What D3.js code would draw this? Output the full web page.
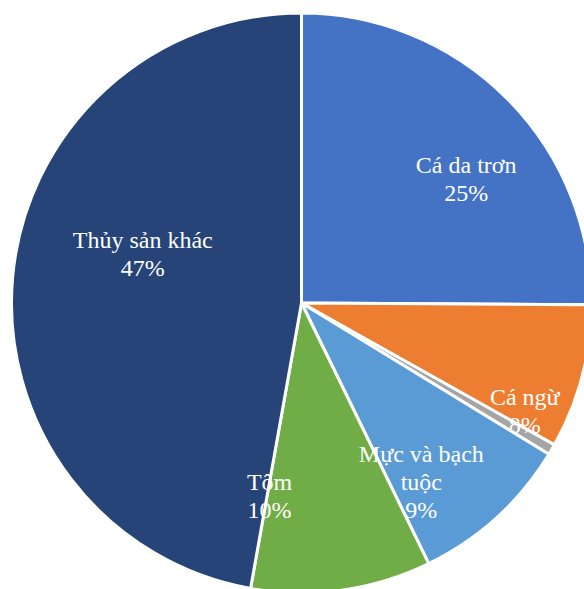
<!DOCTYPE html>
<html>
<head>
<meta charset="utf-8">
<script src="https://cdn.jsdelivr.net/npm/d3@7"></script>
<style>
  html, body { margin: 0; padding: 0; background: #ffffff; }
  svg { display: block; }
</style>
</head>
<body>
<svg id="chart" width="584" height="589"></svg>
<script>
// Seafood export structure, share by product group (%)
const categories = ["Cá da trơn", "Cá ngừ", "Khác", "Mực và bạch tuộc", "Tôm", "Thủy sản khác"];
const shares = [25, 8, 0.6, 9, 10, 47];
const valueLabels = ["25%", "8%", "", "9%", "10%", "47%"];
// label text lines (wrapped as in the chart)
const labelLines = [["Cá da trơn"], ["Cá ngừ"], [], ["Mực và bạch", "tuộc"], ["Tôm"], ["Thủy sản khác"]];

const colors = ["#4472C4", "#ED7D31", "#A5A5A5", "#5B9BD5", "#70AD47", "#264478"];

// label placement tweaks relative to the slice centroid
const labelNudge = [[31, 9], [41, 60], [0, 0], [-7, 40], [-58, 6], [29, -32]];

const width = 584, height = 589;
const cx = 301.5, cy = 303, radius = 290;

const svg = d3.select("#chart");
const g = svg.append("g").attr("transform", `translate(${cx},${cy})`);

const data = categories.map((c, i) => ({ name: c, value: shares[i], idx: i }));

const pie = d3.pie().sort(null).value(d => d.value).startAngle(0).endAngle(2 * Math.PI);
const arcs = pie(data);

const color = d3.scaleOrdinal().domain(categories).range(colors);

const arc = d3.arc().innerRadius(0).outerRadius(radius);
const labelArc = d3.arc().innerRadius(radius * 0.65).outerRadius(radius * 0.65);

g.selectAll("path.slice")
  .data(arcs)
  .join("path")
  .attr("class", "slice")
  .attr("d", arc)
  .attr("fill", d => color(d.data.name))
  .attr("stroke", "#ffffff")
  .attr("stroke-width", 3)
  .attr("stroke-linejoin", "round");

const lineHeight = 28;
const fontSize = 24;

const labels = g.selectAll("text.lbl")
  .data(arcs.filter(d => valueLabels[d.data.idx] !== ""))
  .join("text")
  .attr("class", "lbl")
  .attr("text-anchor", "middle")
  .attr("fill", "#ffffff")
  .style("font-family", "'Liberation Serif', 'Times New Roman', serif")
  .style("font-size", fontSize + "px");

labels.each(function (d) {
  const i = d.data.idx;
  const [x0, y0] = labelArc.centroid(d);
  const x = x0 + labelNudge[i][0];
  const y = y0 + labelNudge[i][1];
  const lines = labelLines[i].concat([valueLabels[i]]);
  const firstBaseline = y - ((lines.length - 1) * lineHeight) / 2 + 8;
  const t = d3.select(this);
  lines.forEach((ln, k) => {
    t.append("tspan")
      .attr("x", x)
      .attr("y", firstBaseline + k * lineHeight)
      .text(ln);
  });
});
</script>
</body>
</html>
